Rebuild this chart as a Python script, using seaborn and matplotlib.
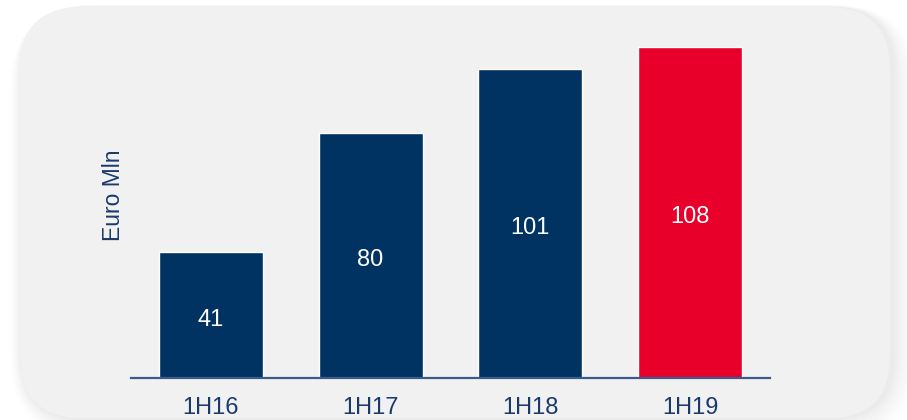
import matplotlib
matplotlib.use("Agg")
import matplotlib.pyplot as plt
from matplotlib.patches import FancyBboxPatch
from matplotlib.transforms import IdentityTransform
import seaborn as sns
import pandas as pd

categories = ["1H16", "1H17", "1H18", "1H19"]
values = [41, 80, 101, 108]
bar_colors = ["#003361", "#003361", "#003361", "#e8002a"]
y_label = "Euro Mln"

sns.set_style("white")
plt.rcParams["font.family"] = ["Liberation Sans", "DejaVu Sans"]

W, H = 907, 420
fig = plt.figure(figsize=(W / 100, H / 100), dpi=100)
fig.patch.set_facecolor("white")

# soft shadow + rounded panel (pixel coordinates)
px0, py0, pw, ph = 20, 2, 870, 411
rad = 62
for i, a in enumerate([0.012, 0.011, 0.010, 0.009, 0.008, 0.007, 0.006,
                       0.005, 0.004, 0.003]):
    g = (i + 1) * 2.5
    sh = FancyBboxPatch((px0 - g * 0.5 + 2, py0 - g), pw + g * 1.6, ph + g * 1.1,
                        boxstyle=f"round,pad=0,rounding_size={rad + g}",
                        transform=IdentityTransform(), facecolor="black",
                        edgecolor="none", alpha=a, zorder=-20 + i)
    fig.patches.append(sh)
panel = FancyBboxPatch((px0, py0), pw, ph,
                       boxstyle=f"round,pad=0,rounding_size={rad}",
                       transform=IdentityTransform(), facecolor="#f1f1f1",
                       edgecolor="none", zorder=-5)
fig.patches.append(panel)

ax = fig.add_axes([131 / W, 1 - 377.5 / H, (770 - 131) / W, (377.5 - 30) / H])
ax.set_facecolor("none")
ax.set_zorder(2)

df = pd.DataFrame({"cat": categories, "val": values})
sns.barplot(data=df, x="cat", y="val", hue="cat", palette=bar_colors,
            width=0.65, saturation=1, legend=False, ax=ax, dodge=False)

for cont in ax.containers:
    anns = ax.bar_label(cont, labels=[f"{v:g}" for v in cont.datavalues],
                        label_type="center", color="white", fontsize=17)
    for a in anns:
        a.xyann = (0, -3.5)

ax.set_xlim(-0.5, 3.5)
ax.set_ylim(0, 113.6)
for s in ["top", "right", "left"]:
    ax.spines[s].set_visible(False)
ax.spines["bottom"].set_color("#3b5b8c")
ax.spines["bottom"].set_linewidth(1.6)
ax.set_yticks([])
ax.set_xlabel("")
ax.set_ylabel("")
ax.tick_params(axis="x", length=0, pad=14, labelsize=17, labelcolor="#1a3a6a")

fig.text(114 / W, 1 - 195 / H, y_label, rotation=90, ha="center", va="center",
         fontsize=16.5, color="#1a3a6a")

fig.savefig("out.png", dpi=100)
